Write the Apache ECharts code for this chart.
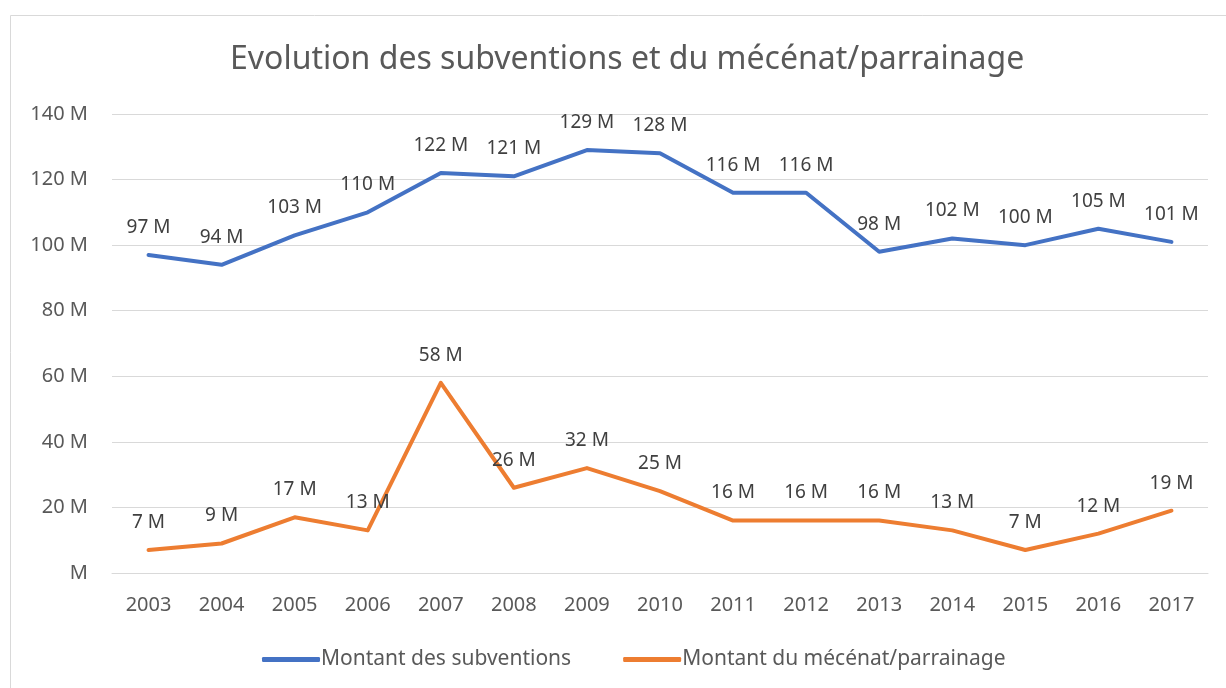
<!DOCTYPE html>
<html>
<head>
<meta charset="utf-8">
<style>
html, body { margin: 0; padding: 0; background: #fff; }
#chart { width: 1226px; height: 688px; }
</style>
<script src="https://cdn.jsdelivr.net/npm/echarts@6/dist/echarts.min.js"></script>
</head>
<body>
<div id="chart"></div>
<script type="text/javascript">
	// données (en millions)
	var annees = ['2003', '2004', '2005', '2006', '2007', '2008', '2009', '2010',
		'2011', '2012', '2013', '2014', '2015', '2016', '2017'];
	var subventions = [97, 94, 103, 110, 122, 121, 129, 128, 116, 116, 98, 102, 100, 105, 101];
	var mecenat = [7, 9, 17, 13, 58, 26, 32, 25, 16, 16, 16, 13, 7, 12, 19];

	var police = "'Noto Sans', 'Open Sans', sans-serif";

	function etiquette(v) {
		return v === 0 ? 'M' : v + ' M';
	}

	function serie(nom, data, couleur) {
		return {
			name : nom,
			type : 'line',
			data : data,
			showSymbol : true,
			symbol : 'circle',
			symbolSize : 0,
			lineStyle : { width : 4, color : couleur, cap : 'round', join : 'round' },
			itemStyle : { color : couleur },
			label : {
				show : true,
				position : 'top',
				distance : 18,
				fontFamily : police,
				fontSize : 19,
				color : '#404040',
				formatter : function(p) { return etiquette(p.value); }
			}
		};
	}

	var option = {
		animation : false,
		title : {
			text : 'Evolution des subventions et du mécénat/parrainage',
			left : 225,
			top : 39,
			textStyle : { fontFamily : police, fontSize : 32, fontWeight : 'normal', color : '#595959' }
		},
		graphic : [ {
			type : 'rect',
			shape : { x : 10.5, y : 15.5, width : 1240, height : 700 },
			style : { fill : 'none', stroke : '#d9d9d9', lineWidth : 1 }
		} ],
		legend : {
			top : 644,
			left : 257,
			itemWidth : 58,
			itemHeight : 5,
			itemGap : 52,
			icon : 'roundRect',
			textStyle : { fontFamily : police, fontSize : 21, color : '#595959', padding : [0, 0, 0, -4] },
			data : [ 'Montant des subventions', 'Montant du mécénat/parrainage' ]
		},
		grid : { left : 112, right : 18, top : 114, bottom : 115 },
		xAxis : {
			type : 'category',
			data : annees,
			boundaryGap : true,
			axisLine : { lineStyle : { color : '#d9d9d9' } },
			axisTick : { show : false },
			axisLabel : { fontFamily : police, fontSize : 20, color : '#595959', margin : 22 }
		},
		yAxis : {
			type : 'value',
			min : 0,
			max : 140,
			interval : 20,
			axisLine : { show : false },
			axisTick : { show : false },
			splitLine : { lineStyle : { color : '#d9d9d9', width : 1 } },
			axisLabel : {
				fontFamily : police, fontSize : 20, color : '#595959', margin : 24,
				formatter : etiquette
			}
		},
		series : [
			serie('Montant des subventions', subventions, '#4472c4'),
			serie('Montant du mécénat/parrainage', mecenat, '#ed7d31')
		]
	};

	var chart = echarts.init(document.getElementById('chart'));
	chart.setOption(option);
</script>
</body>
</html>
